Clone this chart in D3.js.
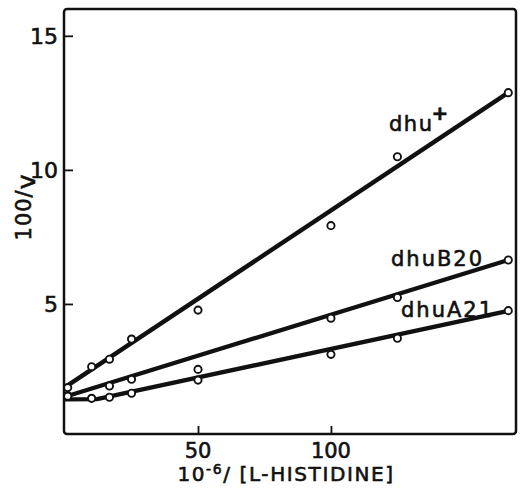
<!DOCTYPE html>
<html lang="en">
<head>
<meta charset="UTF-8">
<title>100/v vs 10-6/[L-histidine]</title>
<script src="https://d3js.org/d3.v7.min.js"></script>
<style>
  body { margin: 0; background: #fff; }
  svg { display: block; }
  text { font-family: "DejaVu Sans", sans-serif; fill: #111; stroke: #111; stroke-width: 0.6px; }
</style>
</head>
<body>
<svg id="chart" width="520" height="492"></svg>
<script>
// data
const xTicks = [50, 100];
const yTicks = [5, 10, 15];

const plusX = [1, 10, 16.7, 25, 50, 100, 125, 166.7];
const plusY = [1.88, 2.66, 2.94, 3.69, 4.77, 7.92, 10.49, 12.88];

const b20X = [1, 16.7, 25, 50, 100, 125, 166.7];
const b20Y = [1.58, 1.94, 2.19, 2.56, 4.47, 5.24, 6.64];

const a21X = [1, 10, 16.7, 25, 50, 100, 125, 166.7];
const a21Y = [1.56, 1.48, 1.52, 1.67, 2.16, 3.12, 3.72, 4.75];

// fitted lines (end points)
const plusLineX = [0, 166.7], plusLineY = [1.9, 12.88];
const b20LineX = [0, 166.7], b20LineY = [1.54, 6.64];
const a21LineX = [0, 12, 166.7], a21LineY = [1.44, 1.45, 4.74];

const svg = d3.select("#chart");
const mLeft = 64, mRight = 516, mTop = 9, mBottom = 434;

const x = d3.scaleLinear().domain([-0.4, 169.6]).range([mLeft, mRight]);
const y = d3.scaleLinear().domain([0.15, 16]).range([mBottom, mTop]);

// frame
svg.append("rect")
  .attr("x", mLeft).attr("y", mTop)
  .attr("width", mRight - mLeft).attr("height", mBottom - mTop)
  .attr("rx", 3)
  .attr("fill", "none").attr("stroke", "#111").attr("stroke-width", 2.5);

// axes, ticks pointing inward
const yAxis = svg.append("g")
  .attr("transform", "translate(" + mLeft + ",0)")
  .call(d3.axisRight(y).tickValues(yTicks).tickSize(9).tickFormat(""));
yAxis.select(".domain").remove();
yAxis.selectAll("line").attr("stroke", "#111").attr("stroke-width", 1.8);

const xAxis = svg.append("g")
  .attr("transform", "translate(0," + mBottom + ")")
  .call(d3.axisTop(x).tickValues(xTicks).tickSize(8).tickFormat(""));
xAxis.select(".domain").remove();
xAxis.selectAll("line").attr("stroke", "#111").attr("stroke-width", 1.8);

// tick labels
svg.selectAll(".ylab").data(yTicks).enter().append("text")
  .attr("class", "ylab")
  .attr("x", mLeft - 6)
  .attr("y", d => y(d) + 8)
  .attr("text-anchor", "end")
  .style("font-size", "22px")
  .text(d => d);

svg.selectAll(".xlab").data(xTicks).enter().append("text")
  .attr("class", "xlab")
  .attr("x", d => x(d))
  .attr("y", 458)
  .attr("text-anchor", "middle")
  .style("font-size", "21px")
  .text(d => d);

// axis titles
const xt = svg.append("text")
  .attr("x", 286).attr("y", 481)
  .attr("text-anchor", "middle")
  .style("font-size", "20px")
  .style("letter-spacing", "1.6px");
xt.append("tspan").text("10");
xt.append("tspan").attr("dy", -7).style("font-size", "14px").text("-6");
xt.append("tspan").attr("dy", 7).text("/ [L-HISTIDINE]");

const yt = svg.append("text")
  .attr("transform", "translate(31,207) rotate(-90)")
  .attr("text-anchor", "middle")
  .style("font-size", "21px")
  .style("letter-spacing", "1px");
yt.append("tspan").text("100/");
yt.append("tspan").attr("dy", 4).style("font-size", "25px").text("v");

// lines
const line = d3.line().x(d => x(d[0])).y(d => y(d[1]));
const lines = [
  [plusLineX, plusLineY],
  [b20LineX, b20LineY],
  [a21LineX, a21LineY]
];
lines.forEach(l => {
  svg.append("path")
    .datum(d3.zip(l[0], l[1]))
    .attr("d", line)
    .attr("fill", "none")
    .attr("stroke", "#111")
    .attr("stroke-width", 4.4)
    .attr("stroke-linejoin", "round");
});

// points
const series = [[plusX, plusY], [b20X, b20Y], [a21X, a21Y]];
series.forEach(s => {
  svg.append("g").selectAll("circle")
    .data(d3.zip(s[0], s[1]))
    .enter().append("circle")
    .attr("cx", d => x(d[0]))
    .attr("cy", d => y(d[1]))
    .attr("r", 3.6)
    .attr("fill", "#fff")
    .attr("stroke", "#111")
    .attr("stroke-width", 1.9);
});

// series labels
const lp = svg.append("text")
  .attr("x", 389).attr("y", 131)
  .style("font-size", "21px")
  .style("letter-spacing", "1.5px");
lp.append("tspan").text("dhu");
lp.append("tspan").attr("dx", -2).attr("dy", -11).style("font-size", "20px").style("font-weight", "bold").text("+");

svg.append("text")
  .attr("x", 391).attr("y", 266)
  .style("font-size", "21px")
  .style("letter-spacing", "2px")
  .text("dhuB20");

svg.append("text")
  .attr("x", 401).attr("y", 317)
  .style("font-size", "21px")
  .style("letter-spacing", "2px")
  .text("dhuA21");
</script>
</body>
</html>
